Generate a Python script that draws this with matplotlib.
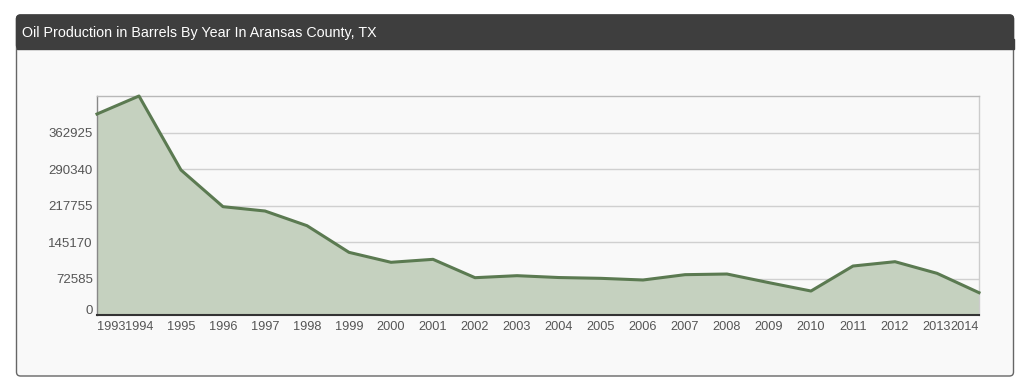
import matplotlib
matplotlib.use('Agg')
import matplotlib.pyplot as plt
from matplotlib.patches import FancyBboxPatch, Rectangle
from matplotlib.transforms import IdentityTransform, ScaledTranslation

years = list(range(1993, 2015))
production = [399700, 435510, 288300, 215400, 206800, 177600, 124600, 104800,
              110700, 74200, 78200, 74500, 72900, 69600, 80200, 81500, 64300,
              47700, 97400, 106000, 82900, 44400]
ytick_values = [0, 72585, 145170, 217755, 290340, 362925]
title = "Oil Production in Barrels By Year In Aransas County, TX"

W, H = 1024, 385
fig = plt.figure(figsize=(W / 100, H / 100), dpi=100)
fig.patch.set_facecolor('white')
FONT = ['Liberation Sans', 'DejaVu Sans']


def py(y):
    return H - y


panel = FancyBboxPatch((16.5, py(376)), 997, 361,
                       boxstyle="round,pad=0,rounding_size=4",
                       transform=IdentityTransform(), facecolor='#f9f9f9',
                       edgecolor='#666666', linewidth=1, zorder=0)
fig.add_artist(panel)
header = FancyBboxPatch((16.5, py(49)), 997, 34,
                        boxstyle="round,pad=0,rounding_size=4",
                        transform=IdentityTransform(), facecolor='#3e3e3e',
                        edgecolor='#3e3e3e', linewidth=1, zorder=1)
fig.add_artist(header)
fig.add_artist(Rectangle((16.5, py(49)), 997, 10, transform=IdentityTransform(),
                         facecolor='#3e3e3e', edgecolor='#3e3e3e', linewidth=1,
                         zorder=1))
fig.text(22 / W, 1 - 32.5 / H, title, color='white', fontsize=10.3, va='center',
         ha='left', family=FONT, zorder=2)

ax = fig.add_axes([97 / W, 1 - 315 / H, 882 / W, 219 / H])
ax.set_facecolor('#f9f9f9')
ax.fill_between(years, production, 0, color='#c5d1bf', linewidth=0, zorder=2)
ax.plot(years, production, color='#5b7a51', linewidth=2.2, zorder=3,
        clip_on=False, solid_joinstyle='round')
ax.set_xlim(years[0], years[-1])
ax.set_ylim(0, max(production))

ax.set_yticks(ytick_values)
ax.set_yticklabels([str(v) for v in ytick_values])
ax.yaxis.grid(True, color='#d0d0d0', linewidth=1, zorder=1)
ax.set_axisbelow(True)
ax.set_xticks(years)
ax.set_xticklabels([str(y) for y in years])
ax.tick_params(axis='both', length=0, labelcolor='#555555', labelsize=9.5)
ax.tick_params(axis='x', pad=4.5, labelsize=9.2)
ax.tick_params(axis='y', pad=3)
for lab in ax.get_xticklabels() + ax.get_yticklabels():
    lab.set_family(FONT)

xl = ax.get_xticklabels()
xl[0].set_ha('left')
xl[-1].set_ha('right')
yl = ax.get_yticklabels()
yl[0].set_transform(yl[0].get_transform() + ScaledTranslation(0, 6 / 100, fig.dpi_scale_trans))

ax.spines['top'].set_color('#b8b8b8')
ax.spines['right'].set_color('#cccccc')
ax.spines['left'].set_color('#888888')
ax.spines['bottom'].set_color('#333333')
ax.spines['bottom'].set_linewidth(1.5)
for s in ['top', 'right', 'left']:
    ax.spines[s].set_linewidth(1)

fig.savefig('out.png', dpi=100)
